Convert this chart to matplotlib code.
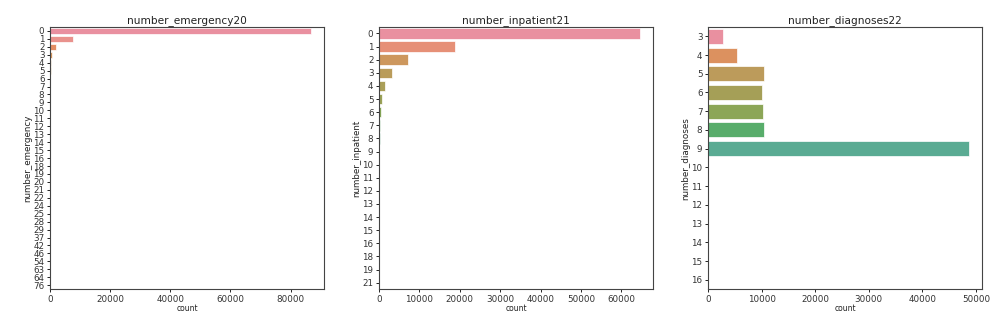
import matplotlib
matplotlib.use('Agg')
import matplotlib.pyplot as plt
import seaborn as sns

# counts per value
emergency_labels = ['0', '1', '2', '3', '4', '5', '6', '7', '8', '9', '10', '11', '12',
                    '13', '14', '15', '16', '18', '19', '20', '21', '22', '24', '25',
                    '28', '29', '37', '42', '46', '54', '63', '64', '76']
emergency_counts = [86800, 7600, 2000, 700, 370, 190, 90, 70, 50, 33, 34, 23, 10,
                    12, 3, 3, 5, 5, 4, 4, 2, 2, 1, 2, 1, 1, 1, 1, 1, 1, 1, 1, 1]

inpatient_labels = ['0', '1', '2', '3', '4', '5', '6', '7', '8', '9', '10', '11', '12',
                    '13', '14', '15', '16', '18', '19', '21']
inpatient_counts = [64600, 18900, 7300, 3200, 1500, 750, 450, 240, 130, 100, 55, 45,
                    30, 20, 10, 9, 6, 1, 2, 1]

diagnoses_labels = ['3', '4', '5', '6', '7', '8', '9', '10', '11', '12', '13', '14',
                    '15', '16']
diagnoses_counts = [2800, 5500, 10500, 10100, 10300, 10400, 48700, 17, 9, 9, 16, 7,
                    10, 45]

panels = [
    ('number_emergency', 20, emergency_labels, emergency_counts),
    ('number_inpatient', 21, inpatient_labels, inpatient_counts),
    ('number_diagnoses', 22, diagnoses_labels, diagnoses_counts),
]

fig = plt.figure(figsize=(10, 3.13), dpi=100)
lefts = [0.050, 0.379, 0.708]

for left, (name, num, labels, counts) in zip(lefts, panels):
    ax = fig.add_axes([left, 0.076, 0.274, 0.838])
    # countplot style colours: husl palette, desaturated and a touch lighter
    colors = []
    for c in sns.color_palette('husl', len(labels)):
        c = sns.desaturate(c, 0.75)
        colors.append(tuple(0.88 * v + 0.12 for v in c))
    pos = list(range(len(labels)))
    ax.barh(pos, counts, height=0.8, color=colors, edgecolor='white', linewidth=0.5)
    ax.set_yticks(pos)
    ax.set_yticklabels(labels)
    ax.set_ylim(len(labels) - 0.5, -0.5)
    ax.set_xlim(0, max(counts) * 1.05)
    ax.set_title(name + str(num), fontsize=7.6, pad=3, color='#222222')
    ax.set_ylabel(name, fontsize=6.3, labelpad=1, color='#222222')
    ax.set_xlabel('count', fontsize=5.5, labelpad=0, color='#222222')
    ax.tick_params(axis='both', labelsize=6.3, length=2.5, width=0.6, pad=1.5,
                   labelcolor='#333333')
    for s in ax.spines.values():
        s.set_color('#444444')
        s.set_linewidth(0.8)

fig.savefig('out.png', dpi=100)
